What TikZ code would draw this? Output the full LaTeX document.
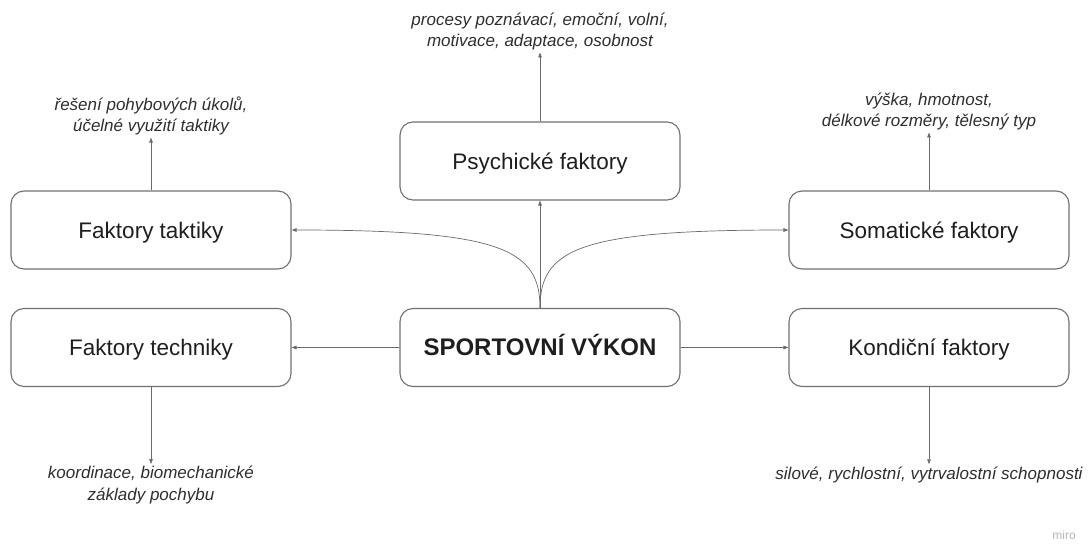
\documentclass[tikz,border=0pt]{standalone}
\usepackage{fontspec}
\setmainfont{Liberation Sans}
\usetikzlibrary{arrows.meta}
\definecolor{boxline}{HTML}{707070}
\definecolor{linkline}{HTML}{6A6A6A}
\definecolor{labeltext}{HTML}{1E1E1E}
\definecolor{notetext}{HTML}{2E2E2E}
\definecolor{mirogrey}{HTML}{B4B4B4}

\begin{document}
\begin{tikzpicture}[x=1pt, y=-1pt,
	factor/.style={draw=boxline, line width=1.1pt, rounded corners=13pt,
		minimum width=280pt, minimum height=78pt, inner sep=0pt,
		text height=17pt, text depth=0.8pt, text=labeltext,
		font=\fontsize{22.5}{27}\selectfont},
	note/.style={text=notetext, align=center, inner sep=2pt,
		font=\fontsize{17}{21.5}\selectfont\itshape},
	link/.style={draw=linkline, line width=0.7pt,
		-{Triangle[length=5pt, width=3.6pt]}}]
	%%%%% START %%%%%
	
	\useasboundingbox (0, 0) rectangle (1090, 546);
	
	\node[factor] (psych) at (540, 161) {Psychické faktory};
	\node[factor] (taktika) at (151, 230) {Faktory taktiky};
	\node[factor] (somatika) at (929, 230) {Somatické faktory};
	\node[factor] (technika) at (151, 347.5) {Faktory techniky};
	\node[factor, font=\fontsize{24}{28}\selectfont\bfseries] (vykon) at (540, 347.5) {SPORTOVNÍ VÝKON};
	\node[factor] (kondice) at (929, 347.5) {Kondiční faktory};
	
	\node[note] (psychNote) at (540, 31.5) {procesy poznávací, emoční, volní,\\motivace, adaptace, osobnost};
	\node[note] (taktikaNote) at (151, 116) {řešení pohybových úkolů,\\účelné využití taktiky};
	\node[note] (somatikaNote) at (929, 111.5) {výška, hmotnost,\\délkové rozměry, tělesný typ};
	\node[note] (technikaNote) at (151, 485) {koordinace, biomechanické\\základy pochybu};
	\node[note] (kondiceNote) at (929, 474.5) {silové, rychlostní, vytrvalostní schopnosti};
	
	\draw[link] (vykon.north) -- (psych.south);
	\draw[link] (vykon.north) .. controls +(0, -59) and +(209, 0) .. (taktika.east);
	\draw[link] (vykon.north) .. controls +(0, -59) and +(-209, 0) .. (somatika.west);
	\draw[link] (vykon.west) -- (technika.east);
	\draw[link] (vykon.east) -- (kondice.west);
	
	\draw[link] (psych.north) -- (psychNote.south);
	\draw[link] (taktika.north) -- (taktikaNote.south);
	\draw[link] (somatika.north) -- (somatikaNote.south);
	\draw[link] (technika.south) -- (technikaNote.north);
	\draw[link] (kondice.south) -- (kondiceNote.north);
	
	\node[text=mirogrey, font=\fontsize{12}{14}\selectfont] (miro) at (1064, 535) {miro};
	
	%%%%% END %%%%%
\end{tikzpicture}
\end{document}
